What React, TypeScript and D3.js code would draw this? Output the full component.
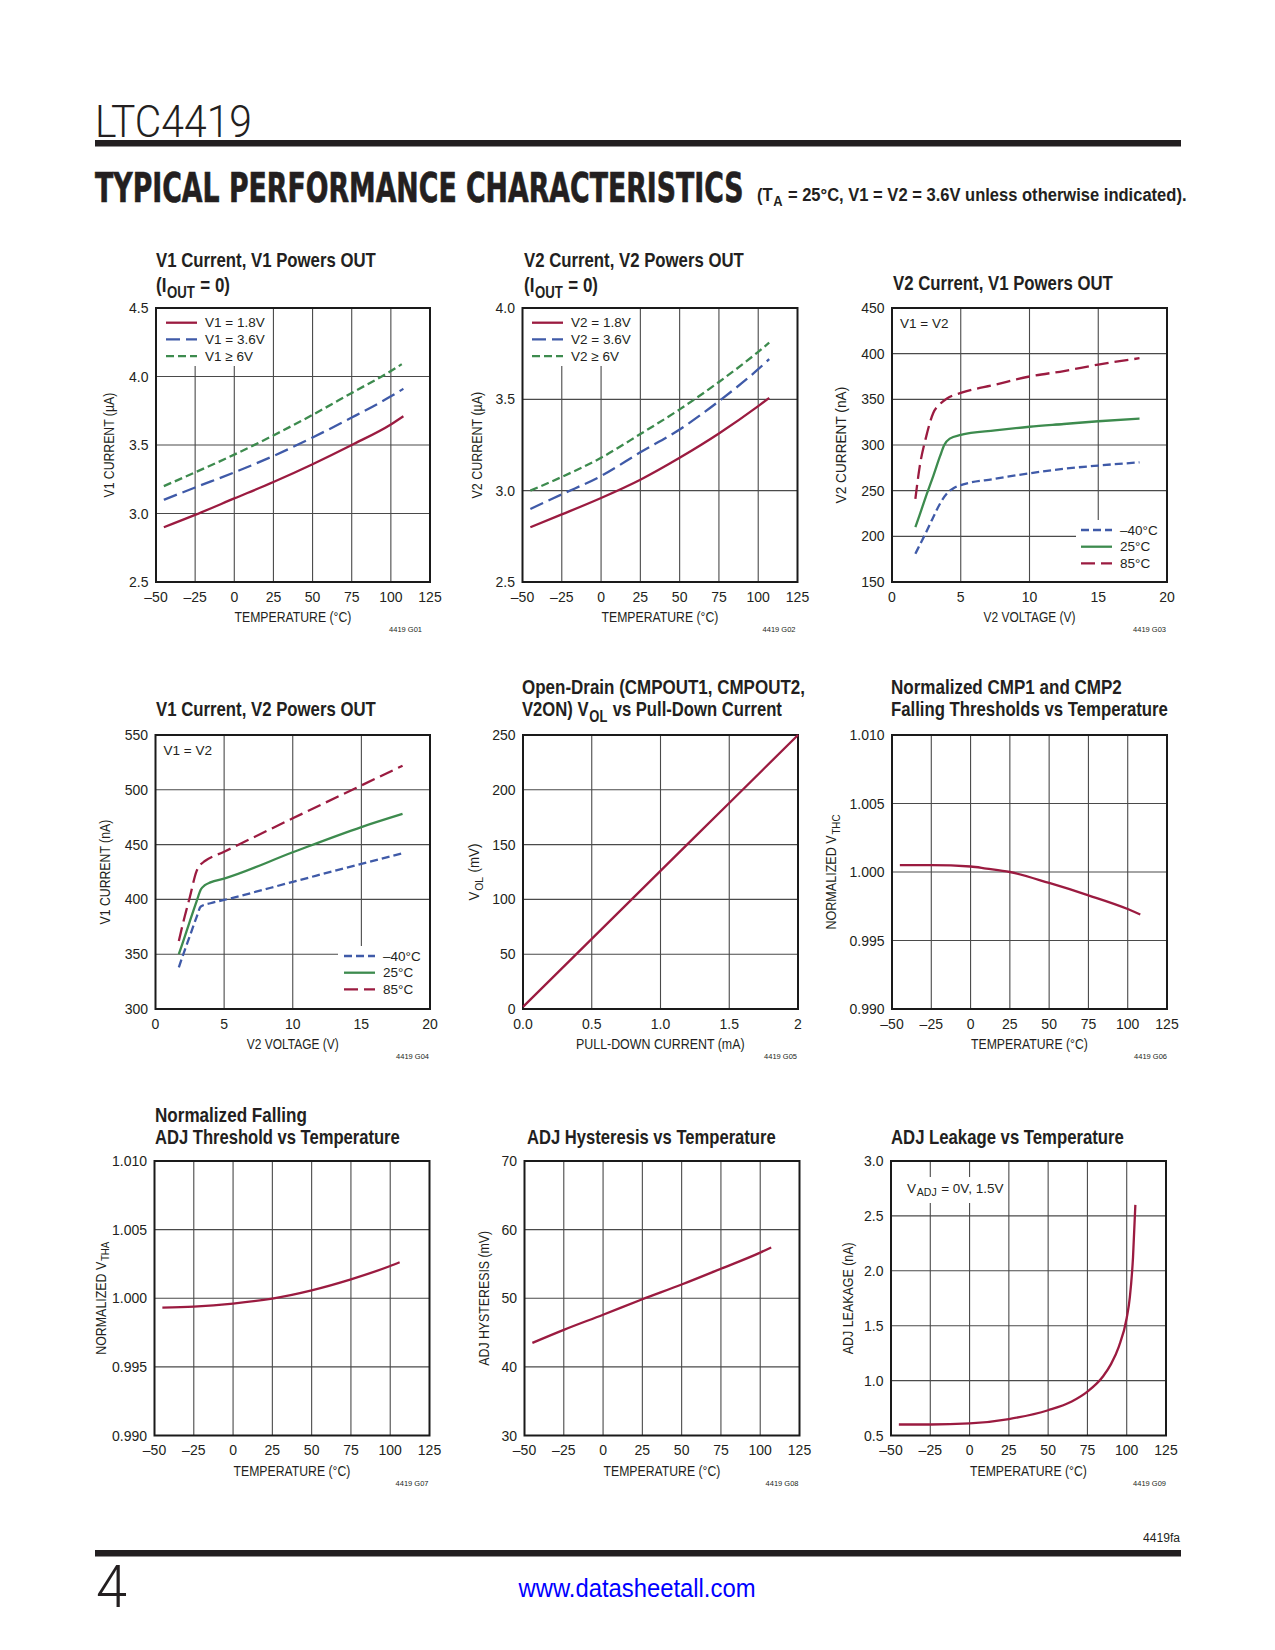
import * as d3 from "d3";

// ---------- data ----------
const TEMP_TICKS = [-50, -25, 0, 25, 50, 75, 100, 125];
const VOLT_TICKS = [0, 5, 10, 15, 20];

// G01  V1 current, V1 powers OUT (µA)
const g01Temp = [-45, -25, 0, 25, 50, 75, 100, 108];
const g01TempG = [-45, -25, 0, 25, 50, 75, 100, 107];
const g01V18 = [2.9, 2.99, 3.11, 3.23, 3.36, 3.5, 3.65, 3.71];
const g01V36 = [3.1, 3.19, 3.3, 3.42, 3.555, 3.7, 3.855, 3.91];
const g01V6 = [3.2, 3.3, 3.43, 3.57, 3.72, 3.88, 4.04, 4.09];
const g01YTicks = [2.5, 3.0, 3.5, 4.0, 4.5];

// G02  V2 current, V2 powers OUT (µA)
const g02Temp = [-45, -25, 0, 25, 50, 75, 100, 107];
const g02V18 = [2.8, 2.87, 2.96, 3.06, 3.18, 3.313, 3.463, 3.508];
const g02V36 = [2.9, 2.98, 3.08, 3.21, 3.335, 3.49, 3.665, 3.72];
const g02V6 = [3.0, 3.075, 3.18, 3.31, 3.445, 3.595, 3.76, 3.81];
const g02YTicks = [2.5, 3.0, 3.5, 4.0];

// G03  V2 current, V1 powers OUT (nA)
const g03VHot = [1.7, 2.0, 2.5, 3.0, 3.5, 4.0, 5.0, 7.5, 10, 12.5, 15, 18];
const g03Hot = [241, 275, 310, 335, 345, 351, 357, 366, 375, 381, 388, 395];
const g03VRoom = [1.7, 2.0, 2.5, 3.0, 3.5, 3.8, 4.2, 5.0, 7.5, 10, 12.5, 15, 18];
const g03Room = [210, 223, 245, 266, 288, 300, 307, 311, 316, 320, 323, 326, 329];
const g03VCold = [1.7, 2.0, 2.5, 3.0, 3.5, 4.0, 4.5, 5.0, 7.5, 10, 12.5, 15, 18];
const g03Cold = [181, 190, 205, 221, 236, 247, 253, 256, 263, 269, 274, 277.5, 281];
const g03YTicks = [150, 200, 250, 300, 350, 400, 450];

// G04  V1 current, V2 powers OUT (nA)
const g04VHot = [1.7, 2.0, 2.5, 3.0, 3.3, 3.6, 5, 10, 15, 18];
const g04Hot = [362, 378, 402, 426, 432, 435, 443.5, 474, 504, 522];
const g04VRoom = [1.7, 2.0, 2.5, 3.0, 3.3, 3.6, 4.0, 5, 10, 15, 18];
const g04Room = [350, 361, 380, 398.5, 409, 413, 415.5, 419, 443, 466, 478];
const g04VCold = [1.7, 2.0, 2.5, 3.0, 3.3, 4.0, 5, 10, 15, 18];
const g04Cold = [338, 349, 366.5, 384, 393.5, 396.5, 399.5, 416, 432.5, 442];
const g04YTicks = [300, 350, 400, 450, 500, 550];

// G05  VOL vs pull-down current
const g05I = [0, 0.5, 1.0, 1.5, 2.0];
const g05V = [2, 64, 126, 188, 250];
const g05XTicks = [0, 0.5, 1.0, 1.5, 2];
const g05YTicks = [0, 50, 100, 150, 200, 250];

// G06  normalized CMP falling threshold
const g06Temp = [-45, -25, 0, 10, 25, 50, 75, 100, 108];
const g06V = [1.0005, 1.0005, 1.0004, 1.00025, 1.0, 0.9992, 0.9983, 0.9973, 0.9969];
const NORM_TICKS = [0.99, 0.995, 1.0, 1.005, 1.01];

// G07  normalized ADJ falling threshold
const g07Temp = [-45, -25, 0, 25, 50, 75, 100, 106];
const g07V = [0.99932, 0.99939, 0.99961, 0.99998, 1.00058, 1.00138, 1.00235, 1.00262];

// G08  ADJ hysteresis (mV)
const g08Temp = [-45, -25, 0, 25, 50, 75, 100, 107];
const g08V = [43.5, 45.4, 47.6, 49.85, 52.0, 54.3, 56.65, 57.4];
const g08YTicks = [30, 40, 50, 60, 70];

// G09  ADJ leakage (nA)
const g09Temp = [-45, -25, 0, 25, 50, 65, 75, 85, 90, 95, 100, 102, 104, 105.5];
const g09V = [0.6, 0.6, 0.61, 0.65, 0.73, 0.81, 0.9, 1.04, 1.15, 1.31, 1.57, 1.76, 2.12, 2.6];
const g09YTicks = [0.5, 1.0, 1.5, 2.0, 2.5, 3.0];

// ---------- styling ----------
const RED = "#9b1b40";
const BLUE = "#3f5aa8";
const GREEN = "#3d8b4e";
const INK = "#231f20";
const FONT = "'Liberation Sans', Arial, Helvetica, sans-serif";
const HEAVY = "'DejaVu Sans', 'Liberation Sans', sans-serif";
const LIGHT = "Roboto, 'Liberation Sans', sans-serif";
const LONG = "14,6";
const SHORT = "8,4";
const SUB = 0.78;

type Seg = { t: string; sub?: boolean };
const S = (t: string): Seg[] => [{ t }];

let ctx: CanvasRenderingContext2D | null = null;
function textWidth(t: string, fs: number, weight: string, family: string) {
  if (!ctx) ctx = document.createElement("canvas").getContext("2d");
  if (!ctx) return t.length * fs * 0.5;
  ctx.font = `${weight} ${fs}px ${family}`;
  return ctx.measureText(t).width;
}

// text with subscripts, each piece laid out on its own, squeezed to a width
function Rich(props: {
  segs: Seg[];
  x: number;
  y: number;
  fs: number;
  bold?: boolean;
  weight?: string;
  len?: number;
  anchor?: "start" | "middle";
  rotate?: number;
  central?: boolean;
  family?: string;
  stroke?: number;
}) {
  const { segs, x, y, fs, bold, len, anchor = "start", rotate = 0, central, family = FONT, stroke } = props;
  const weight = props.weight || (bold ? "bold" : "normal");
  const gap = segs.length > 1 ? 0.8 : 0;
  const widths = segs.map((s) => textWidth(s.t, s.sub ? fs * SUB : fs, weight, family));
  const total = d3.sum(widths) + gap * (segs.length - 1);
  const sx = len ? len / total : 1;
  let cx = anchor === "middle" ? -total / 2 : 0;
  const parts = segs.map((s, i) => {
    const px = cx;
    cx += widths[i] + gap;
    return (
      <text
        key={i}
        x={px}
        y={s.sub ? fs * 0.28 : 0}
        fontSize={s.sub ? fs * SUB : fs}
        dominantBaseline={central ? "central" : undefined}
        style={{ whiteSpace: "pre" }}
      >
        {s.t}
      </text>
    );
  });
  return (
    <g
      transform={`translate(${x},${y}) rotate(${rotate}) scale(${sx},1)`}
      fontFamily={family}
      fontWeight={weight}
      fill={INK}
      stroke={stroke ? INK : undefined}
      strokeWidth={stroke}
    >
      {parts}
    </g>
  );
}

const fmtT = (v: number) => (v < 0 ? "–" + Math.abs(v) : String(v));

interface Series {
  xs: number[];
  ys: number[];
  color: string;
  dash?: string;
}
interface LegendItem {
  label: string;
  color: string;
  dash?: string;
}
interface PanelProps {
  left: number;
  top: number;
  w: number;
  h: number;
  xDomain: [number, number];
  yDomain: [number, number];
  xTicks: number[];
  yTicks: number[];
  xFmt: (v: number) => string;
  yFmt: (v: number) => string;
  series: Series[];
  title: { segs: Seg[]; x: number; y: number; len: number }[];
  xLabel: string;
  xLabelLen: number;
  yLabel: Seg[];
  yLabelLen: number;
  yLabelOff: number;
  id: string;
  idRight?: number;
  box?: [number, number, number, number];
  legend?: { x: number; y: number; items: LegendItem[] };
  note?: { segs: Seg[]; x: number; y: number };
}

function Panel(p: PanelProps) {
  const x = d3.scaleLinear().domain(p.xDomain).range([p.left, p.left + p.w]);
  const y = d3.scaleLinear().domain(p.yDomain).range([p.top + p.h, p.top]);
  const bottom = p.top + p.h;
  const right = p.left + p.w;
  const path = (s: Series) =>
    d3
      .line<number>()
      .x((_, i) => x(s.xs[i]))
      .y((v) => y(v))
      .curve(d3.curveMonotoneX)(s.ys) || "";
  const innerX = p.xTicks.slice(1, -1);
  const innerY = p.yTicks.slice(1, -1);
  return (
    <g fontFamily={FONT}>
      {p.title.map((t, i) => (
        <Rich key={i} segs={t.segs} x={t.x} y={t.y} fs={20} bold len={t.len} />
      ))}
      <g stroke="#4a4a4a" strokeWidth={1.1}>
        {innerX.map((v) => (
          <line key={"gx" + v} x1={x(v)} x2={x(v)} y1={p.top} y2={bottom} />
        ))}
        {innerY.map((v) => (
          <line key={"gy" + v} x1={p.left} x2={right} y1={y(v)} y2={y(v)} />
        ))}
      </g>
      {p.box && (
        <rect
          x={p.box[0]}
          y={p.box[1]}
          width={p.box[2] - p.box[0]}
          height={p.box[3] - p.box[1]}
          fill="#fff"
        />
      )}
      <rect x={p.left} y={p.top} width={p.w} height={p.h} fill="none" stroke="#1a1a1a" strokeWidth={2} />
      {p.series.map((s, i) => (
        <path key={i} d={path(s)} fill="none" stroke={s.color} strokeWidth={2.3} strokeDasharray={s.dash} />
      ))}
      {p.yTicks.map((v) => (
        <text
          key={"ty" + v}
          x={p.left - 7.5}
          y={y(v)}
          fontSize={14}
          fill={INK}
          textAnchor="end"
          dominantBaseline="central"
        >
          {p.yFmt(v)}
        </text>
      ))}
      {p.xTicks.map((v) => (
        <text key={"tx" + v} x={x(v)} y={bottom + 19.5} fontSize={14} fill={INK} textAnchor="middle">
          {p.xFmt(v)}
        </text>
      ))}
      <Rich segs={S(p.xLabel)} x={(p.left + right) / 2} y={bottom + 40} fs={14} len={p.xLabelLen} anchor="middle" />
      <Rich
        segs={p.yLabel}
        x={p.left - p.yLabelOff}
        y={(p.top + bottom) / 2}
        fs={14}
        len={p.yLabelLen}
        anchor="middle"
        rotate={-90}
      />
      <text x={right - (p.idRight || 0)} y={bottom + 50} fontSize={7.5} fill={INK} textAnchor="end">
        {p.id}
      </text>
      {p.legend &&
        p.legend.items.map((it, i) => {
          const ly = p.legend!.y + i * 16.7;
          return (
            <g key={"lg" + i}>
              <line
                x1={p.legend!.x}
                x2={p.legend!.x + 31}
                y1={ly}
                y2={ly}
                stroke={it.color}
                strokeWidth={2.3}
                strokeDasharray={it.dash}
              />
              <text x={p.legend!.x + 39} y={ly} fontSize={13.5} fill={INK} dominantBaseline="central">
                {it.label}
              </text>
            </g>
          );
        })}
      {p.note && <Rich segs={p.note.segs} x={p.note.x} y={p.note.y} fs={13.5} central />}
    </g>
  );
}

const f1 = d3.format(".1f");
const f3 = d3.format(".3f");
const f0 = (v: number) => String(v);

export default function App() {
  const tempAxis = {
    xDomain: [-50, 125] as [number, number],
    xTicks: TEMP_TICKS,
    xFmt: fmtT,
    xLabel: "TEMPERATURE (°C)",
    xLabelLen: 117,
  };
  const voltAxis = {
    xDomain: [0, 20] as [number, number],
    xTicks: VOLT_TICKS,
    xFmt: f0,
    xLabel: "V2 VOLTAGE (V)",
    xLabelLen: 92,
  };
  return (
    <svg
      width={1275}
      height={1650}
      style={{ position: "absolute", left: 0, top: 0, background: "#fff" }}
    >
      {/* header */}
      <Rich segs={S("LTC4419")} x={95} y={137} fs={45} len={157} weight="300" family={LIGHT} />
      <rect x={95} y={140} width={1086} height={6.5} fill={INK} />
      <Rich segs={S("TYPICAL PERFORMANCE CHARACTERISTICS")} x={95} y={202} fs={40} bold len={649} family={HEAVY} stroke={0.7} />
      <Rich
        segs={[{ t: "(T" }, { t: "A", sub: true }, { t: " = 25°C, V1 = V2 = 3.6V unless otherwise indicated)." }]}
        x={757}
        y={201}
        fs={19}
        bold
        len={430}
      />

      {/* G01 */}
      <Panel
        left={156}
        top={308}
        w={274}
        h={274}
        {...tempAxis}
        yDomain={[2.5, 4.5]}
        yTicks={g01YTicks}
        yFmt={f1}
        series={[
          { xs: g01Temp, ys: g01V18, color: RED },
          { xs: g01Temp, ys: g01V36, color: BLUE, dash: LONG },
          { xs: g01TempG, ys: g01V6, color: GREEN, dash: SHORT },
        ]}
        title={[
          { segs: S("V1 Current, V1 Powers OUT"), x: 156, y: 267, len: 220 },
          { segs: [{ t: "(I" }, { t: "OUT", sub: true }, { t: " = 0)" }], x: 156, y: 292, len: 74 },
        ]}
        yLabel={S("V1 CURRENT (µA)")}
        yLabelLen={105}
        yLabelOff={42}
        id="4419 G01"
        idRight={8}
        box={[157, 309, 266, 366]}
        legend={{
          x: 166,
          y: 322.7,
          items: [
            { label: "V1 = 1.8V", color: RED },
            { label: "V1 = 3.6V", color: BLUE, dash: LONG },
            { label: "V1 ≥ 6V", color: GREEN, dash: SHORT },
          ],
        }}
      />

      {/* G02 */}
      <Panel
        left={522.5}
        top={308}
        w={275}
        h={274}
        {...tempAxis}
        yDomain={[2.5, 4.0]}
        yTicks={g02YTicks}
        yFmt={f1}
        series={[
          { xs: g02Temp, ys: g02V18, color: RED },
          { xs: g02Temp, ys: g02V36, color: BLUE, dash: LONG },
          { xs: g02Temp, ys: g02V6, color: GREEN, dash: SHORT },
        ]}
        title={[
          { segs: S("V2 Current, V2 Powers OUT"), x: 524, y: 267, len: 220 },
          { segs: [{ t: "(I" }, { t: "OUT", sub: true }, { t: " = 0)" }], x: 524, y: 292, len: 74 },
        ]}
        yLabel={S("V2 CURRENT (µA)")}
        yLabelLen={107}
        yLabelOff={41}
        id="4419 G02"
        idRight={2}
        box={[523.5, 309, 630, 366]}
        legend={{
          x: 532,
          y: 322.7,
          items: [
            { label: "V2 = 1.8V", color: RED },
            { label: "V2 = 3.6V", color: BLUE, dash: LONG },
            { label: "V2 ≥ 6V", color: GREEN, dash: SHORT },
          ],
        }}
      />

      {/* G03 */}
      <Panel
        left={892}
        top={308}
        w={275}
        h={274}
        {...voltAxis}
        yDomain={[150, 450]}
        yTicks={g03YTicks}
        yFmt={f0}
        series={[
          { xs: g03VCold, ys: g03Cold, color: BLUE, dash: SHORT },
          { xs: g03VRoom, ys: g03Room, color: GREEN },
          { xs: g03VHot, ys: g03Hot, color: RED, dash: LONG },
        ]}
        title={[{ segs: S("V2 Current, V1 Powers OUT"), x: 893, y: 290, len: 220 }]}
        yLabel={S("V2 CURRENT (nA)")}
        yLabelLen={117}
        yLabelOff={46}
        id="4419 G03"
        idRight={1}
        box={[1076, 520, 1166, 581]}
        legend={{
          x: 1081,
          y: 530,
          items: [
            { label: "–40°C", color: BLUE, dash: SHORT },
            { label: "25°C", color: GREEN },
            { label: "85°C", color: RED, dash: LONG },
          ],
        }}
        note={{ segs: S("V1 = V2"), x: 900, y: 323 }}
      />

      {/* G04 */}
      <Panel
        left={155.5}
        top={735}
        w={274.5}
        h={274}
        {...voltAxis}
        yDomain={[300, 550]}
        yTicks={g04YTicks}
        yFmt={f0}
        series={[
          { xs: g04VCold, ys: g04Cold, color: BLUE, dash: SHORT },
          { xs: g04VRoom, ys: g04Room, color: GREEN },
          { xs: g04VHot, ys: g04Hot, color: RED, dash: LONG },
        ]}
        title={[{ segs: S("V1 Current, V2 Powers OUT"), x: 156, y: 716, len: 220 }]}
        yLabel={S("V1 CURRENT (nA)")}
        yLabelLen={105}
        yLabelOff={46}
        id="4419 G04"
        idRight={1}
        box={[338, 946, 429, 1008]}
        legend={{
          x: 344,
          y: 956,
          items: [
            { label: "–40°C", color: BLUE, dash: SHORT },
            { label: "25°C", color: GREEN },
            { label: "85°C", color: RED, dash: LONG },
          ],
        }}
        note={{ segs: S("V1 = V2"), x: 163.5, y: 750 }}
      />

      {/* G05 */}
      <Panel
        left={523}
        top={735}
        w={275}
        h={274}
        xDomain={[0, 2]}
        xTicks={g05XTicks}
        xFmt={(v) => (v === 2 ? "2" : f1(v))}
        xLabel="PULL-DOWN CURRENT (mA)"
        xLabelLen={169}
        yDomain={[0, 250]}
        yTicks={g05YTicks}
        yFmt={f0}
        series={[{ xs: g05I, ys: g05V, color: RED }]}
        title={[
          { segs: S("Open-Drain (CMPOUT1, CMPOUT2,"), x: 522, y: 693.5, len: 283 },
          {
            segs: [{ t: "V2ON) V" }, { t: "OL", sub: true }, { t: " vs Pull-Down Current" }],
            x: 522,
            y: 716,
            len: 260,
          },
        ]}
        yLabel={[{ t: "V" }, { t: "OL", sub: true }, { t: " (mV)" }]}
        yLabelLen={57}
        yLabelOff={44}
        id="4419 G05"
        idRight={1}
      />

      {/* G06 */}
      <Panel
        left={892}
        top={735}
        w={275}
        h={274}
        {...tempAxis}
        yDomain={[0.99, 1.01]}
        yTicks={NORM_TICKS}
        yFmt={f3}
        series={[{ xs: g06Temp, ys: g06V, color: RED }]}
        title={[
          { segs: S("Normalized CMP1 and CMP2"), x: 891, y: 693.5, len: 231 },
          { segs: S("Falling Thresholds vs Temperature"), x: 891, y: 716, len: 277 },
        ]}
        yLabel={[{ t: "NORMALIZED V" }, { t: "THC", sub: true }]}
        yLabelLen={115}
        yLabelOff={56}
        id="4419 G06"
        idRight={0}
      />

      {/* G07 */}
      <Panel
        left={154.5}
        top={1161}
        w={275}
        h={274.5}
        {...tempAxis}
        yDomain={[0.99, 1.01]}
        yTicks={NORM_TICKS}
        yFmt={f3}
        series={[{ xs: g07Temp, ys: g07V, color: RED }]}
        title={[
          { segs: S("Normalized Falling"), x: 155, y: 1121.5, len: 152 },
          { segs: S("ADJ Threshold vs Temperature"), x: 155, y: 1143.5, len: 245 },
        ]}
        yLabel={[{ t: "NORMALIZED V" }, { t: "THA", sub: true }]}
        yLabelLen={113}
        yLabelOff={49}
        id="4419 G07"
        idRight={1}
      />

      {/* G08 */}
      <Panel
        left={524.5}
        top={1161}
        w={275}
        h={274.5}
        {...tempAxis}
        yDomain={[30, 70]}
        yTicks={g08YTicks}
        yFmt={f0}
        series={[{ xs: g08Temp, ys: g08V, color: RED }]}
        title={[{ segs: S("ADJ Hysteresis vs Temperature"), x: 527, y: 1143.5, len: 249 }]}
        yLabel={S("ADJ HYSTERESIS (mV)")}
        yLabelLen={135}
        yLabelOff={36}
        id="4419 G08"
        idRight={1}
      />

      {/* G09 */}
      <Panel
        left={891}
        top={1161}
        w={275}
        h={274.5}
        {...tempAxis}
        yDomain={[0.5, 3.0]}
        yTicks={g09YTicks}
        yFmt={f1}
        series={[{ xs: g09Temp, ys: g09V, color: RED }]}
        title={[{ segs: S("ADJ Leakage vs Temperature"), x: 891, y: 1144, len: 233 }]}
        yLabel={S("ADJ LEAKAGE (nA)")}
        yLabelLen={112}
        yLabelOff={38}
        id="4419 G09"
        idRight={0}
        box={[903, 1177, 998, 1203]}
        note={{ segs: [{ t: "V" }, { t: "ADJ", sub: true }, { t: " = 0V, 1.5V" }], x: 907, y: 1188 }}
      />

      {/* footer */}
      <text x={1180} y={1542} fontFamily={FONT} fontSize={12.5} fill={INK} textAnchor="end" textLength={37} lengthAdjust="spacingAndGlyphs">
        4419fa
      </text>
      <rect x={95} y={1550} width={1086} height={6.5} fill={INK} />
      <Rich segs={S("4")} x={96} y={1607} fs={60} len={31} weight="300" family={LIGHT} />
      <text x={637} y={1597} fontFamily={FONT} fontSize={26} fill="#0000ff" textAnchor="middle" textLength={237} lengthAdjust="spacingAndGlyphs">
        www.datasheetall.com
      </text>
    </svg>
  );
}
